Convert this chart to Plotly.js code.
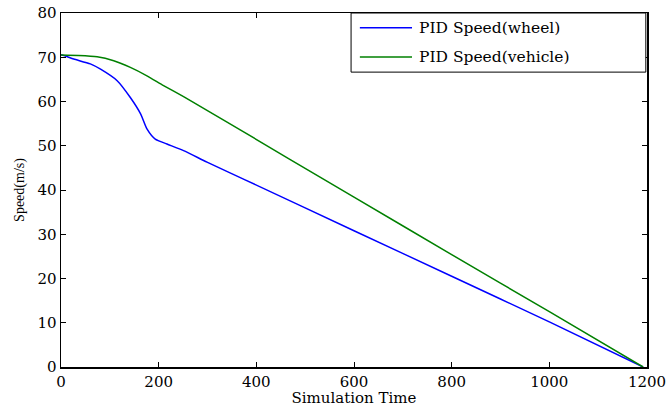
<!DOCTYPE html>
<html>
<head>
<meta charset="utf-8">
<script src="https://cdn.plot.ly/plotly-3.0.1.min.js"></script>
<style>html,body{margin:0;padding:0;background:#fff;}#chart{width:668px;height:407px;}</style>
</head>
<body>
<div id="chart"></div>
<script>
const wheelTime  = [0, 2, 26, 60, 81, 115, 142, 163, 176, 193, 217, 251, 299, 377, 600, 800, 1000, 1192];
const wheelSpeed = [70.5, 70.5, 69.6, 68.5, 67.3, 64.7, 60.9, 57.2, 53.8, 51.5, 50.4, 48.9, 46.3, 42.3, 30.8, 20.5, 10.2, 0];
const vehicleTime  = [0, 36, 74, 108, 142, 176, 210, 251, 299, 367, 466, 600, 800, 1000, 1192];
const vehicleSpeed = [70.5, 70.4, 70.1, 69.2, 67.7, 65.8, 63.6, 61.1, 58.0, 53.6, 47.1, 38.4, 25.4, 12.5, 0];
const seriesNames = ['PID Speed(wheel)', 'PID Speed(vehicle)'];
const seriesColors = ['#0000ff', '#008000'];
const xTicks = [0, 200, 400, 600, 800, 1000, 1200];
const yTicks = [0, 10, 20, 30, 40, 50, 60, 70, 80];

const font = 'DejaVu Serif, serif';
const traces = [
  {x: wheelTime, y: wheelSpeed, mode: 'lines', name: seriesNames[0],
   line: {color: seriesColors[0], width: 1.5, shape: 'spline', smoothing: 0.6}},
  {x: vehicleTime, y: vehicleSpeed, mode: 'lines', name: seriesNames[1],
   line: {color: seriesColors[1], width: 1.5, shape: 'spline', smoothing: 0.6}}
];

// manual MATLAB-style legend box (paper coordinates)
const legendRowY = [0.958, 0.876];
const shapes = [{type: 'rect', xref: 'paper', yref: 'paper', x0: 0.495, x1: 0.998, y0: 0.833, y1: 1,
                 line: {color: '#000', width: 1}, fillcolor: '#fff', layer: 'above'}];
const annotations = [];
seriesNames.forEach((n, i) => {
  shapes.push({type: 'line', xref: 'paper', yref: 'paper', x0: 0.510, x1: 0.599, y0: legendRowY[i], y1: legendRowY[i],
               line: {color: seriesColors[i], width: 1.5}, layer: 'above'});
  annotations.push({xref: 'paper', yref: 'paper', x: 0.607, y: legendRowY[i], xanchor: 'left', yanchor: 'middle',
                    text: n, showarrow: false, font: {family: font, size: 15.5, color: '#000'}});
});

const axisCommon = {
  showgrid: false, zeroline: false, showline: true, linecolor: '#000', linewidth: 1.5,
  mirror: 'ticks', ticks: 'inside', ticklen: 5, tickcolor: '#000', tickwidth: 1,
  tickfont: {family: font, size: 15, color: '#000'}
};
const layout = {
  width: 668, height: 407,
  margin: {l: 61, r: 21, t: 13, b: 40},
  paper_bgcolor: '#fff', plot_bgcolor: '#fff',
  showlegend: false,
  shapes: shapes, annotations: annotations,
  xaxis: Object.assign({}, axisCommon, {range: [0, 1200], tickvals: xTicks, ticktext: xTicks.map(String),
           title: {text: 'Simulation Time', font: {family: font, size: 15, color: '#000'}, standoff: 0}}),
  yaxis: Object.assign({}, axisCommon, {range: [0, 80], tickvals: yTicks, ticktext: yTicks.map(String),
           title: {text: 'Speed(m/s)', font: {family: 'Liberation Serif, serif', size: 14, color: '#000'}, standoff: 9}})
};
Plotly.newPlot('chart', traces, layout, {displayModeBar: false, staticPlot: true});
</script>
</body>
</html>
